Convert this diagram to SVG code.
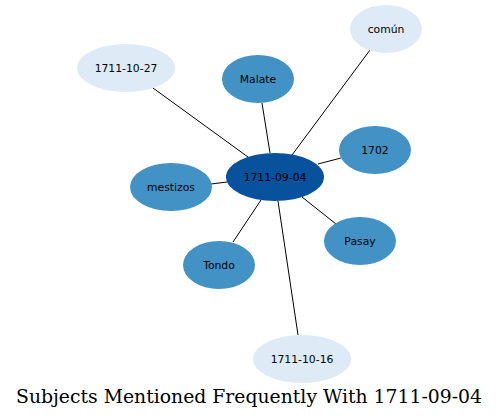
<svg xmlns="http://www.w3.org/2000/svg" width="499" height="420" viewBox="0 0 499 420">
<style>
.e{stroke:#000;stroke-width:1;fill:none}
.n text{font-family:"DejaVu Sans",sans-serif;font-size:10.8px;text-anchor:middle;dominant-baseline:central;fill:#000}
.c{fill:#08519c}.m{fill:#4292c6}.l{fill:#deebf7}
.t{font-family:"DejaVu Serif",serif;font-size:18px;text-anchor:middle}
</style>
<rect width="499" height="420" fill="#fff"/>
<g id="edges">
<line class="e" x1="248" y1="157" x2="153" y2="88"/>
<line class="e" x1="292" y1="155" x2="370" y2="50"/>
<line class="e" x1="270" y1="153" x2="262" y2="103"/>
<line class="e" x1="318" y1="164" x2="341" y2="158"/>
<line class="e" x1="227" y1="182" x2="211" y2="184"/>
<line class="e" x1="302" y1="197" x2="336" y2="224"/>
<line class="e" x1="261" y1="200" x2="233" y2="242"/>
<line class="e" x1="278" y1="201" x2="298" y2="335"/>
</g>
<g id="n-center" class="n"><ellipse class="c" cx="275" cy="177" rx="49" ry="24"/><text x="275" y="177">1711-09-04</text></g>
<g id="n-1711-10-27" class="n"><ellipse class="l" cx="126" cy="68" rx="49" ry="24"/><text x="126" y="68">1711-10-27</text></g>
<g id="n-comun" class="n"><ellipse class="l" cx="386" cy="29" rx="36" ry="24"/><text x="386" y="29">común</text></g>
<g id="n-malate" class="n"><ellipse class="m" cx="258" cy="79" rx="36" ry="24"/><text x="258" y="79">Malate</text></g>
<g id="n-1702" class="n"><ellipse class="m" cx="375" cy="150" rx="36" ry="24"/><text x="375" y="150">1702</text></g>
<g id="n-mestizos" class="n"><ellipse class="m" cx="171" cy="187" rx="41" ry="24"/><text x="171" y="187">mestizos</text></g>
<g id="n-pasay" class="n"><ellipse class="m" cx="360" cy="241" rx="36" ry="24"/><text x="360" y="241">Pasay</text></g>
<g id="n-tondo" class="n"><ellipse class="m" cx="219" cy="265" rx="36" ry="24"/><text x="219" y="265">Tondo</text></g>
<g id="n-1711-10-16" class="n"><ellipse class="l" cx="302" cy="359" rx="49" ry="24"/><text x="302" y="359">1711-10-16</text></g>
<text class="t" x="249" y="403" textLength="466" lengthAdjust="spacingAndGlyphs">Subjects Mentioned Frequently With 1711-09-04</text>
</svg>
